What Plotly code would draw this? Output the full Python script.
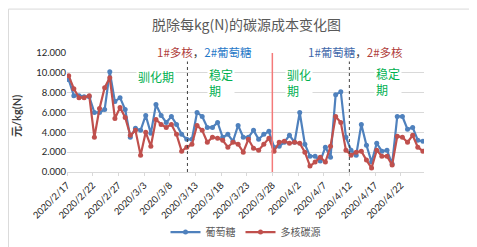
import pandas as pd
import plotly.graph_objects as go

# ---- data ----
start_date = "2020-02-17"
n_days = 70
glucose = [9.3, 7.7, 7.7, 7.6, 7.6, 6.0, 6.0, 6.3, 10.1, 7.1,
           7.5, 6.3, 3.5, 4.4, 4.2, 5.7, 3.9, 6.8, 5.7, 5.0,
           5.6, 4.8, 3.8, 3.3, 3.3, 6.0, 5.6, 4.5, 4.5, 5.0,
           3.5, 3.8, 3.1, 4.7, 3.5, 3.5, 4.2, 3.3, 3.8, 4.1,
           2.5, 2.6, 3.0, 3.7, 3.0, 6.0, 2.8, 1.6, 1.6, 1.1,
           2.5, 1.5, 7.8, 8.1, 3.5, 2.2, 1.7, 4.8, 2.7, 1.0,
           2.9, 2.1, 2.2, 0.8, 5.6, 5.6, 4.3, 4.5, 3.2, 3.1]
multicore = [9.7, 8.4, 7.5, 7.5, 7.7, 3.5, 6.4, 8.5, 9.5, 5.4,
             6.5, 5.5, 3.7, 4.2, 1.7, 4.0, 2.6, 5.3, 4.8, 4.5,
             4.8, 3.8, 2.1, 2.5, 2.8, 4.7, 4.2, 3.0, 3.5, 3.4,
             3.2, 2.5, 3.0, 2.8, 2.0, 3.3, 2.4, 2.2, 2.8, 3.4,
             2.1, 3.0, 3.1, 2.9, 3.0, 2.9, 2.0, 0.6, 1.0, 1.5,
             1.0, 2.6, 5.6, 5.0, 2.2, 1.7, 2.0, 2.1, 1.2, 0.4,
             2.2, 1.6, 1.6, 0.7, 3.6, 3.5, 3.0, 3.7, 2.5, 2.1]
series_names = ["葡萄糖", "多核碳源"]
tick_dates = pd.date_range(start_date, "2020-04-22", freq="5D")
tick_labels = [f"{d.year}/{d.month}/{d.day}" for d in tick_dates]
y_ticks = [0, 2, 4, 6, 8, 10, 12]
phase_dash_dates = ["2020-03-11 11:00", "2020-04-12"]
switch_date = "2020-03-28"

# ---- styling ----
BLUE = "#4F81BD"
RED = "#C0504D"
GREEN = "#00B050"
TXT_RED = "#B0403C"
TXT_BLUE = "#1F78C8"
TXT_BLUE2 = "#3E68AA"
CJK = "Noto Sans CJK SC"
LAT = "Lato, Noto Sans CJK SC"

dates = pd.date_range(start_date, periods=n_days) + pd.Timedelta(hours=8)

fig = go.Figure()
for name, vals, col in [(series_names[0], glucose, BLUE), (series_names[1], multicore, RED)]:
    fig.add_trace(go.Scatter(
        x=dates, y=vals, name=name, mode="lines+markers",
        line=dict(color=col, width=2.2),
        marker=dict(color=col, size=5),
    ))

shapes = []
for d in phase_dash_dates:
    shapes.append(dict(type="line", xref="x", yref="y", x0=d, x1=d, y0=0, y1=12,
                       line=dict(color="#404040", width=1, dash="dot")))
shapes.append(dict(type="line", xref="x", yref="y", x0=switch_date, x1=switch_date, y0=0, y1=12,
                   line=dict(color="#F47A7A", width=1.5)))
# chart-area border
shapes.append(dict(type="rect", xref="paper", yref="paper",
                   x0=-0.164, x1=1.163, y0=-0.655, y1=1.369,
                   line=dict(color="#D9D9D9", width=1), layer="below"))

ann_font = dict(family=CJK, size=11.5)
green_font = dict(family=CJK, size=12, color=GREEN)
annotations = [
    dict(xref="paper", yref="paper", x=0.385, y=1.006, xanchor="center", yanchor="middle",
         showarrow=False,
         text=f"<span style='color:{TXT_RED}'>1#多核</span><span style='color:#404040'>，</span>"
              f"<span style='color:{TXT_BLUE}'>2#葡萄糖</span>",
         font=ann_font, bgcolor="white", borderpad=1),
    dict(xref="paper", yref="paper", x=0.808, y=1.006, xanchor="center", yanchor="middle",
         showarrow=False,
         text=f"<span style='color:{TXT_BLUE2}'>1#葡萄糖</span><span style='color:#404040'>，</span>"
              f"<span style='color:{TXT_RED}'>2#多核</span>",
         font=ann_font, bgcolor="white", borderpad=1),
    dict(xref="paper", yref="paper", x=0.249, y=0.806, xanchor="center", yanchor="middle",
         showarrow=False, text="驯化期", font=green_font, bgcolor="white"),
    dict(xref="paper", yref="paper", x=0.393, y=0.754, xanchor="left", yanchor="middle",
         showarrow=False, align="left", text="稳定<br>期", font=green_font, bgcolor="white"),
    dict(xref="paper", yref="paper", x=0.610, y=0.754, xanchor="left", yanchor="middle",
         showarrow=False, align="left", text="驯化<br>期", font=green_font, bgcolor="white"),
    dict(xref="paper", yref="paper", x=0.859, y=0.758, xanchor="left", yanchor="middle",
         showarrow=False, align="left", text="稳定<br>期", font=green_font, bgcolor="white"),
    dict(xref="paper", yref="paper", x=-0.141, y=0.467, xanchor="center", yanchor="middle",
         showarrow=False, textangle=-90,
         text="<b>元/kg(N)</b>", font=dict(family=LAT, size=11, color="#404040")),
]

fig.update_layout(
    width=477, height=247,
    margin=dict(l=59, r=61, t=45, b=83, autoexpand=False),
    paper_bgcolor="white", plot_bgcolor="white",
    title=dict(text="脱除每kg(N)的碳源成本变化图", x=0.5, xanchor="center",
               y=1 - 16.7 / 247, yanchor="middle",
               font=dict(family=CJK, size=14, color="#595959")),
    showlegend=True,
    legend=dict(orientation="h", x=0.5, xanchor="center", y=-0.505, yanchor="middle",
                font=dict(family=CJK, size=10, color="#595959"), itemwidth=30,
                bgcolor="rgba(0,0,0,0)"),
    xaxis=dict(type="date", range=[start_date, "2020-04-26 13:00"], automargin=False,
               tickvals=tick_dates, ticktext=tick_labels, tickangle=-45,
               tickfont=dict(family=LAT, size=9.5, color="#262626"),
               showgrid=False, showline=True, linecolor="#D9D9D9", linewidth=1,
               ticks="outside", ticklen=3, tickcolor="#D9D9D9", zeroline=False),
    yaxis=dict(range=[0, 12], tickvals=y_ticks, tickformat=".3f", automargin=False,
               tickfont=dict(family=LAT, size=9.5, color="#262626"),
               showgrid=True, gridcolor="#D9D9D9", gridwidth=1, zeroline=False,
               showline=False, ticks=""),
    shapes=shapes, annotations=annotations,
)

fig.write_html("out.html")
